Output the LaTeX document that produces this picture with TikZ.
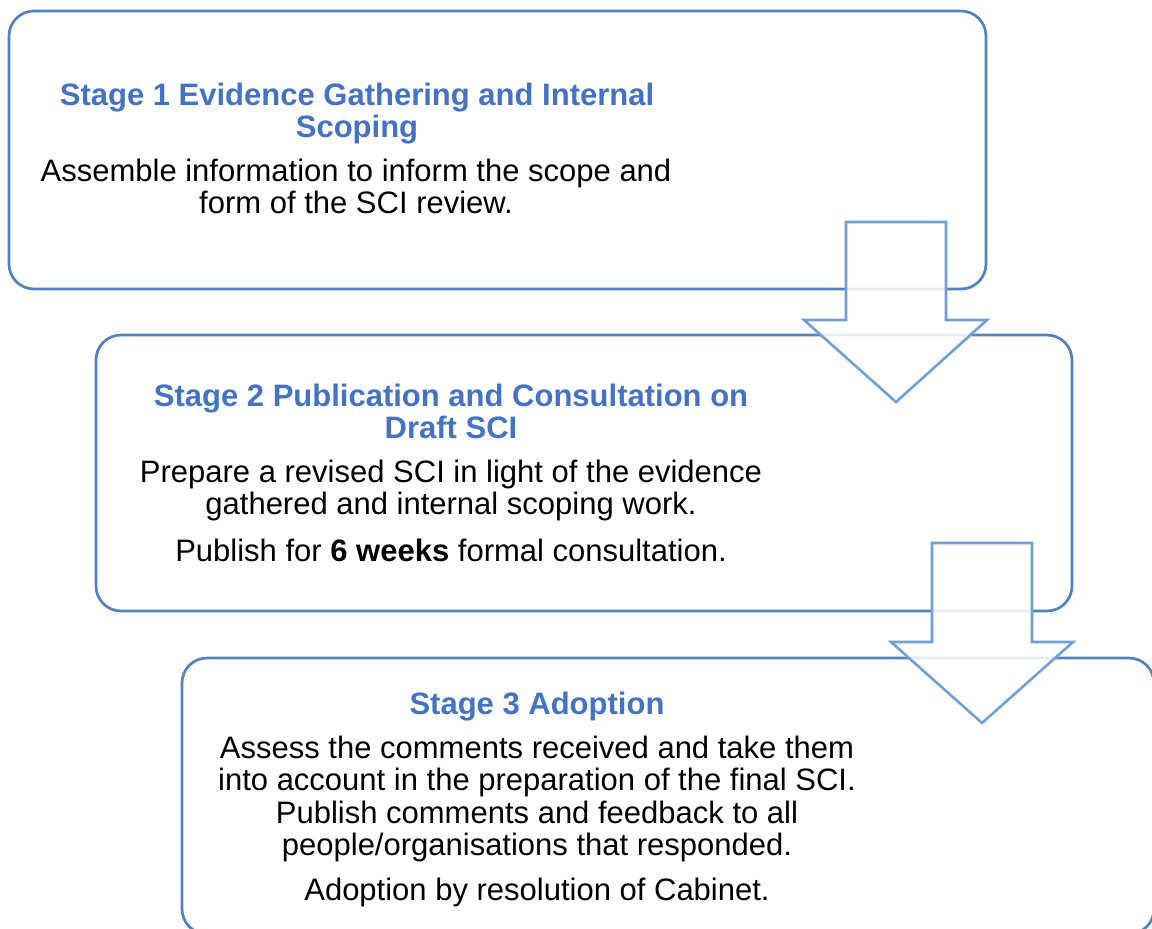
\documentclass[tikz,border=0pt]{standalone}
\usepackage{fontspec}
\setmainfont{Liberation Sans}
\definecolor{boxline}{HTML}{5283BE}
\definecolor{arrline}{HTML}{6FA0D6}
\definecolor{titleblue}{HTML}{4472C4}
\begin{document}
\begin{tikzpicture}[x=1pt,y=-1pt,
  stagebox/.style={draw=boxline, line width=2.7pt, fill=white, rounded corners=25pt, rectangle, inner sep=0pt},
  blockarrow/.style={draw=arrline, line width=2.6pt, fill=white, fill opacity=0.85, line join=miter},
  titletxt/.style={anchor=base, inner sep=0pt, text=titleblue, font=\fontsize{31}{32}\selectfont\bfseries},
  bodytxt/.style={anchor=base, inner sep=0pt, text=black, font=\fontsize{31}{32}\selectfont}]
\useasboundingbox (0,0) rectangle (1152,929);
\clip (0,0) rectangle (1152,929);
% boxes
\node[stagebox, minimum width=977pt, minimum height=278pt] (s1) at (497.5,150) {};
\node[stagebox, minimum width=976pt, minimum height=276pt] (s2) at (584,473) {};
\node[stagebox, minimum width=972pt, minimum height=276pt] (s3) at (668,796) {};
% block arrows
\draw[blockarrow] (846,222) -- (946,222) -- (946,320) -- (987,320) -- (896,402) -- (804,320) -- (846,320) -- cycle;
\draw[blockarrow] (932,543) -- (1032,543) -- (1032,642) -- (1073,642) -- (982,723) -- (891,642) -- (932,642) -- cycle;
% stage 1 text
\node[titletxt] (t1a) at (357,105) {Stage 1 Evidence Gathering and Internal};
\node[titletxt] (t1b) at (357,137) {Scoping};
\node[bodytxt] (b1a) at (356,181) {Assemble information to inform the scope and};
\node[bodytxt] (b1b) at (356,213) {form of the SCI review.};
% stage 2 text
\node[titletxt] (t2a) at (451,406) {Stage 2 Publication and Consultation on};
\node[titletxt] (t2b) at (451,438) {Draft SCI};
\node[bodytxt] (b2a) at (451,482) {Prepare a revised SCI in light of the evidence};
\node[bodytxt] (b2b) at (451,514) {gathered and internal scoping work.};
\node[bodytxt] (b2c) at (451,561) {Publish for \textbf{6 weeks} formal consultation.};
% stage 3 text
\node[titletxt] (t3a) at (537,714) {Stage 3 Adoption};
\node[bodytxt] (b3a) at (537,758) {Assess the comments received and take them};
\node[bodytxt] (b3b) at (537,790.5) {into account in the preparation of the final SCI.};
\node[bodytxt] (b3c) at (537,823) {Publish comments and feedback to all};
\node[bodytxt] (b3d) at (537,855.5) {people/organisations that responded.};
\node[bodytxt] (b3e) at (537,900) {Adoption by resolution of Cabinet.};
\end{tikzpicture}
\end{document}
